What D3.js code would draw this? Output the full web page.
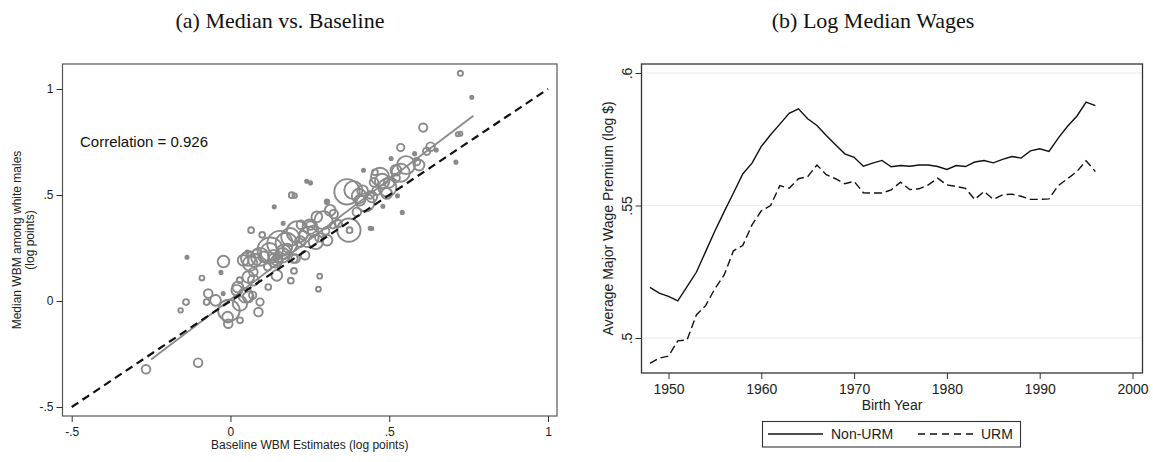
<!DOCTYPE html>
<html>
<head>
<meta charset="utf-8">
<script src="https://cdn.jsdelivr.net/npm/d3@7"></script>
<style>
  body { margin: 0; background: #fff; }
  svg { display: block; }
  text { font-family: "Liberation Sans", Arial, sans-serif; }
</style>
</head>
<body>
<svg id="chart" width="1153" height="462"></svg>
<script>
// ---------------- DATA ----------------
// Panel (a): [baseline, median, weight]
const scatterPoints = [
  [0.724,1.074,4],[0.76,0.961,1.5],[0.607,0.818,10],[0.716,0.787,2.5],[0.724,0.789,2.5],
  [0.71,0.655,1.5],[0.536,0.724,8],[0.63,0.728,11],[0.618,0.706,8],[0.648,0.712,1.5],
  [0.58,0.695,1.5],[0.506,0.672,1.5],[0.553,0.641,48],[0.594,0.641,17],[0.536,0.605,48],
  [0.586,0.657,8],[0.455,0.607,5],[0.419,0.617,1.5],[0.478,0.566,31],[0.494,0.535,48],
  [0.452,0.56,11],[0.367,0.515,95],[0.405,0.495,31],[0.425,0.465,48],[0.416,0.52,17],
  [0.526,0.496,1.5],[0.541,0.418,1.5],[0.445,0.342,1.5],[0.373,0.334,80],[0.375,0.334,5],
  [0.34,0.365,8],[0.398,0.42,11],[0.304,0.468,3],[0.325,0.41,11],[0.293,0.381,48],
  [0.24,0.565,1.5],[0.252,0.557,1.5],[0.193,0.499,5],[0.202,0.497,3],[0.138,0.444,1.5],
  [0.166,0.367,1.5],[0.222,0.36,11],[0.272,0.397,17],[0.25,0.35,31],[0.211,0.326,69],
  [0.246,0.302,60],[0.269,0.279,31],[0.188,0.302,48],[0.176,0.271,69],[0.156,0.271,95],
  [0.125,0.24,95],[0.123,0.231,48],[0.093,0.208,48],[0.141,0.192,31],[0.105,0.208,17],
  [0.076,0.192,25],[0.062,0.177,31],[0.04,0.192,17],[0.056,0.2,31],[0.083,0.224,11],
  [0.135,0.216,17],[0.167,0.231,31],[0.198,0.2,11],[0.235,0.216,11],[0.06,0.224,3],
  [0.053,0.231,1.5],[0.065,0.334,5],[0.1,0.312,5],[-0.022,0.186,20],[-0.03,0.135,1.5],
  [-0.09,0.108,3.5],[-0.137,0.206,1.5],[0.056,0.113,20],[0.072,0.137,11],[0.146,0.121,17],
  [0.119,0.066,5],[0.072,0.098,17],[0.146,0.192,17],[0.19,0.096,5],[0.2,0.142,5],
  [0.205,0.2,11],[0.281,0.117,3.5],[0.277,0.056,3.5],[0.029,0.098,5],[0.023,0.066,17],
  [0.047,0.027,31],[-0.005,-0.045,69],[-0.007,-0.107,11],[-0.009,-0.076,17],[0.03,-0.091,5],
  [0.088,-0.052,11],[0.093,-0.005,8],[0.056,0.019,17],[0.03,-0.012,31],[0.02,0.051,17],
  [-0.047,0.003,17],[-0.07,0.035,11],[-0.075,-0.005,5],[-0.023,0.035,1.5],[-0.14,-0.005,5],
  [-0.157,-0.044,3],[-0.102,-0.291,11],[-0.266,-0.322,11],[0.07,0.027,8],[0.117,0.161,8],
  [0.164,0.216,31],[0.304,0.287,17],[0.322,0.356,5],[0.252,0.356,11],[0.48,0.447,1.5],
  [0.492,0.507,17],[0.521,0.617,17],[0.314,0.428,17],[0.303,0.468,1.5],[0.387,0.523,48],
  [0.471,0.586,48],[0.445,0.491,17],[0.44,0.343,1.5],[0.408,0.476,17],
  [0.22,0.28,17],[0.26,0.33,17],[0.28,0.3,11],[0.23,0.31,11],[0.3,0.33,8],[0.18,0.25,11],
  [0.15,0.2,11],[0.46,0.52,11],[0.5,0.56,17],[0.52,0.58,11],[0.44,0.5,8]
];
const fitIntercept = 0.007, fitSlope = 1.133, fitRange = [-0.25, 0.765];
const diagonalRange = [-0.5, 1];
const correlationLabel = "Correlation = 0.926";
const leftXTicks = [-0.5, 0, 0.5, 1];
const leftYTicks = [-0.5, 0, 0.5, 1];

// Panel (b)
const birthYears = d3.range(1948, 1997);
const nonURM = [
  0.5191,0.5169,0.5157,0.5140,0.5194,0.5248,0.5326,0.5404,0.5477,0.5547,
  0.5619,0.5660,0.5723,0.5767,0.5807,0.5848,0.5865,0.5827,0.5802,0.5764,
  0.5729,0.5695,0.5682,0.5648,0.5660,0.5670,0.5646,0.5651,0.5648,0.5653,
  0.5653,0.5647,0.5636,0.5651,0.5647,0.5664,0.5670,0.5661,0.5674,0.5685,
  0.5679,0.5706,0.5714,0.5704,0.5754,0.5799,0.5837,0.5890,0.5877
];
const urm = [
  0.4904,0.4924,0.4932,0.4989,0.4993,0.5087,0.5122,0.5186,0.5238,0.5329,
  0.5349,0.5427,0.5480,0.5500,0.5575,0.5565,0.5601,0.5609,0.5653,0.5616,
  0.5601,0.5582,0.5591,0.5548,0.5547,0.5547,0.5559,0.5588,0.5560,0.5563,
  0.5578,0.5603,0.5578,0.5572,0.5565,0.5523,0.5553,0.5523,0.5540,0.5543,
  0.5535,0.5523,0.5523,0.5525,0.5575,0.5601,0.5628,0.5669,0.5628
];
const rightXTicks = [1950, 1960, 1970, 1980, 1990, 2000];
const rightYTicks = [0.5, 0.55, 0.6];
const seriesNames = ["Non-URM", "URM"];

// ---------------- DRAW ----------------
const svg = d3.select("#chart");
const stataFmt = d => d === 0 ? "0" : String(d).replace("0.", ".");

// ---- Panel (a) ----
const L = {x0: 62.5, x1: 557, y0: 64, y1: 416};
const xL = d3.scaleLinear().domain([-0.5, 1]).range([71.7, 548]);
const yL = d3.scaleLinear().domain([-0.5, 1]).range([407, 89]);
const rL = d3.scaleSqrt().domain([0, 100]).range([0, 13]);

svg.append("text").attr("x", 280).attr("y", 28).attr("text-anchor", "middle")
  .style("font-family", "'Liberation Serif', 'Times New Roman', serif").style("font-size", "22px")
  .attr("fill", "#111").text("(a) Median vs. Baseline");

const gL = svg.append("g");
gL.append("rect").attr("x", L.x0).attr("y", L.y0).attr("width", L.x1 - L.x0).attr("height", L.y1 - L.y0)
  .attr("fill", "none").attr("stroke", "#555").attr("stroke-width", 1.2);

const pts = scatterPoints.slice().sort((a, b) => b[2] - a[2]);
gL.append("g").selectAll("circle").data(pts).join("circle")
  .attr("cx", d => xL(d[0])).attr("cy", d => yL(d[1]))
  .attr("r", d => Math.max(1.3, rL(d[2])))
  .attr("fill", d => d[2] <= 1.5 ? "#8a8a8a" : "none")
  .attr("stroke", "#8a8a8a").attr("stroke-width", 1.9);

gL.append("line")
  .attr("x1", xL(fitRange[0])).attr("y1", yL(fitIntercept + fitSlope * fitRange[0]))
  .attr("x2", xL(fitRange[1])).attr("y2", yL(fitIntercept + fitSlope * fitRange[1]))
  .attr("stroke", "#8a8a8a").attr("stroke-width", 1.8);

gL.append("line")
  .attr("x1", xL(diagonalRange[0])).attr("y1", yL(diagonalRange[0]))
  .attr("x2", xL(diagonalRange[1])).attr("y2", yL(diagonalRange[1]))
  .attr("stroke", "#111").attr("stroke-width", 2.2).attr("stroke-dasharray", "8,5");

gL.append("text").attr("x", 80).attr("y", 147).style("font-size", "15px").attr("fill", "#111")
  .text(correlationLabel);

const axLY = gL.append("g").attr("transform", `translate(${L.x0},0)`)
  .call(d3.axisLeft(yL).tickValues(leftYTicks).tickFormat(stataFmt).tickSize(6).tickPadding(3));
axLY.select(".domain").remove();
axLY.selectAll("line").attr("stroke", "#333");
axLY.selectAll("text").style("font-size", "12px").attr("fill", "#222").style("font-family", "'Liberation Sans', Arial, sans-serif");

const axLX = gL.append("g").attr("transform", `translate(0,${L.y1})`)
  .call(d3.axisBottom(xL).tickValues(leftXTicks).tickFormat(stataFmt).tickSize(6).tickPadding(5));
axLX.select(".domain").remove();
axLX.selectAll("line").attr("stroke", "#333");
axLX.selectAll("text").style("font-size", "12px").attr("fill", "#222").style("font-family", "'Liberation Sans', Arial, sans-serif");

gL.append("text").attr("x", (L.x0 + L.x1) / 2).attr("y", 449).attr("text-anchor", "middle")
  .style("font-size", "12px").attr("fill", "#222").text("Baseline WBM Estimates (log points)");

const yt = gL.append("text").attr("transform", `translate(21,${(L.y0 + L.y1) / 2}) rotate(-90)`)
  .attr("text-anchor", "middle").style("font-size", "12px").attr("fill", "#222");
yt.append("tspan").attr("x", 0).attr("dy", 0).text("Median WBM among white males");
yt.append("tspan").attr("x", 0).attr("dy", "1.05em").text("(log points)");

// ---- Panel (b) ----
const R = {x0: 641.5, x1: 1142.5, y0: 64, y1: 373};
const xR = d3.scaleLinear().domain([1950, 2000]).range([668.5, 1132.5]);
const yR = d3.scaleLinear().domain([0.5, 0.6]).range([338, 73]);

svg.append("text").attr("x", 873).attr("y", 28).attr("text-anchor", "middle")
  .style("font-family", "'Liberation Serif', 'Times New Roman', serif").style("font-size", "22px")
  .attr("fill", "#111").text("(b) Log Median Wages");

const gR = svg.append("g");
gR.append("g").selectAll("line").data(rightYTicks).join("line")
  .attr("x1", R.x0).attr("x2", R.x1).attr("y1", d => yR(d)).attr("y2", d => yR(d))
  .attr("stroke", "#e6eef1").attr("stroke-width", 1.2);

gR.append("rect").attr("x", R.x0).attr("y", R.y0).attr("width", R.x1 - R.x0).attr("height", R.y1 - R.y0)
  .attr("fill", "none").attr("stroke", "#333").attr("stroke-width", 1.3);

const lineGen = vals => d3.line().x((d, i) => xR(birthYears[i])).y(d => yR(d))(vals);
gR.append("path").attr("d", lineGen(nonURM)).attr("fill", "none").attr("stroke", "#111").attr("stroke-width", 1.4);
gR.append("path").attr("d", lineGen(urm)).attr("fill", "none").attr("stroke", "#111").attr("stroke-width", 1.4)
  .attr("stroke-dasharray", "8,4");

const axRY = gR.append("g").attr("transform", `translate(${R.x0},0)`)
  .call(d3.axisLeft(yR).tickValues(rightYTicks).tickFormat(stataFmt).tickSize(6));
axRY.select(".domain").remove();
axRY.selectAll("line").attr("stroke", "#333");
axRY.selectAll("text").attr("x", 0).attr("y", 0).attr("dy", 0).attr("text-anchor", "middle")
  .attr("transform", "translate(-10,0) rotate(-90)")
  .style("font-size", "14px").attr("fill", "#222").style("font-family", "'Liberation Sans', Arial, sans-serif");

const axRX = gR.append("g").attr("transform", `translate(0,${R.y1})`)
  .call(d3.axisBottom(xR).tickValues(rightXTicks).tickFormat(d3.format("d")).tickSize(6).tickPadding(5));
axRX.select(".domain").remove();
axRX.selectAll("line").attr("stroke", "#333");
axRX.selectAll("text").style("font-size", "14px").attr("fill", "#222").style("font-family", "'Liberation Sans', Arial, sans-serif");

gR.append("text").attr("x", (R.x0 + R.x1) / 2).attr("y", 410).attr("text-anchor", "middle")
  .style("font-size", "14px").attr("fill", "#222").text("Birth Year");

gR.append("text").attr("transform", `translate(613,${(R.y0 + R.y1) / 2}) rotate(-90)`)
  .attr("text-anchor", "middle").style("font-size", "14px").attr("fill", "#222")
  .text("Average Major Wage Premium (log $)");

// Legend
const lg = gR.append("g");
lg.append("rect").attr("x", 762.5).attr("y", 421.5).attr("width", 258).attr("height", 25.5)
  .attr("fill", "#fff").attr("stroke", "#333").attr("stroke-width", 1.1);
const legItems = [
  {name: seriesNames[0], x: 768, dash: null},
  {name: seriesNames[1], x: 918, dash: "7,5"}
];
legItems.forEach(it => {
  lg.append("line").attr("x1", it.x).attr("x2", it.x + 55).attr("y1", 434).attr("y2", 434)
    .attr("stroke", "#111").attr("stroke-width", 1.4).attr("stroke-dasharray", it.dash);
  lg.append("text").attr("x", it.x + 63).attr("y", 439).style("font-size", "14px").attr("fill", "#222")
    .text(it.name);
});
</script>
</body>
</html>
